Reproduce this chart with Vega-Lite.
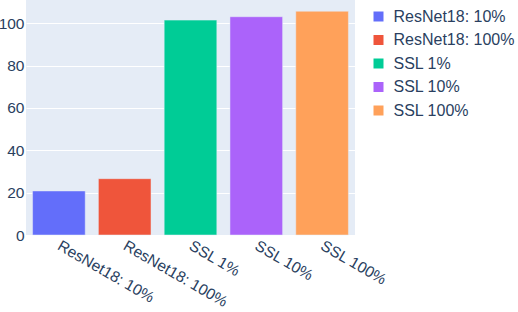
{
  "$schema": "https://vega.github.io/schema/vega-lite/v6.json",
  "autosize": {"type": "none"},
  "padding": {"left": 26, "top": 0, "right": 163, "bottom": 77},
  "width": 329,
  "height": 235,
  "background": "white",
  "data": {"values": [
    {"model": "ResNet18: 10%", "value": 20.8},
    {"model": "ResNet18: 100%", "value": 26.6},
    {"model": "SSL 1%", "value": 101.5},
    {"model": "SSL 10%", "value": 103.1},
    {"model": "SSL 100%", "value": 105.7}
  ]},
  "config": {
    "font": "Liberation Sans",
    "view": {"fill": "#e5ecf6", "stroke": null},
    "axis": {"labelColor": "#2a3f5f", "labelFontSize": 15.5, "domain": false, "ticks": false, "title": null}
  },
  "layer": [
    {
      "mark": {"type": "bar", "stroke": "#e5ecf6", "strokeWidth": 0.5},
      "encoding": {
        "x": {
          "field": "model", "type": "nominal", "sort": null,
          "scale": {"paddingInner": 0.2, "paddingOuter": 0.1},
          "axis": {"labelAngle": 30, "labelAlign": "left", "labelBaseline": "middle", "labelPadding": 9, "grid": false}
        },
        "y": {
          "field": "value", "type": "quantitative",
          "scale": {"domain": [0, 111], "nice": false},
          "axis": {"values": [0, 20, 40, 60, 80, 100], "gridColor": "white", "gridWidth": 1, "labelPadding": 2}
        },
        "color": {
          "field": "model", "type": "nominal", "sort": null,
          "scale": {"range": ["#636efa", "#EF553B", "#00cc96", "#ab63fa", "#FFA15A"]},
          "legend": {
            "title": null, "orient": "right", "offset": 7, "padding": 8.5,
            "symbolType": "square", "symbolSize": 100, "symbolStrokeWidth": 0,
            "labelFontSize": 16, "labelColor": "#2a3f5f", "labelOffset": 7, "rowPadding": 7.5, "labelLimit": 200
          }
        }
      }
    }
  ]
}
